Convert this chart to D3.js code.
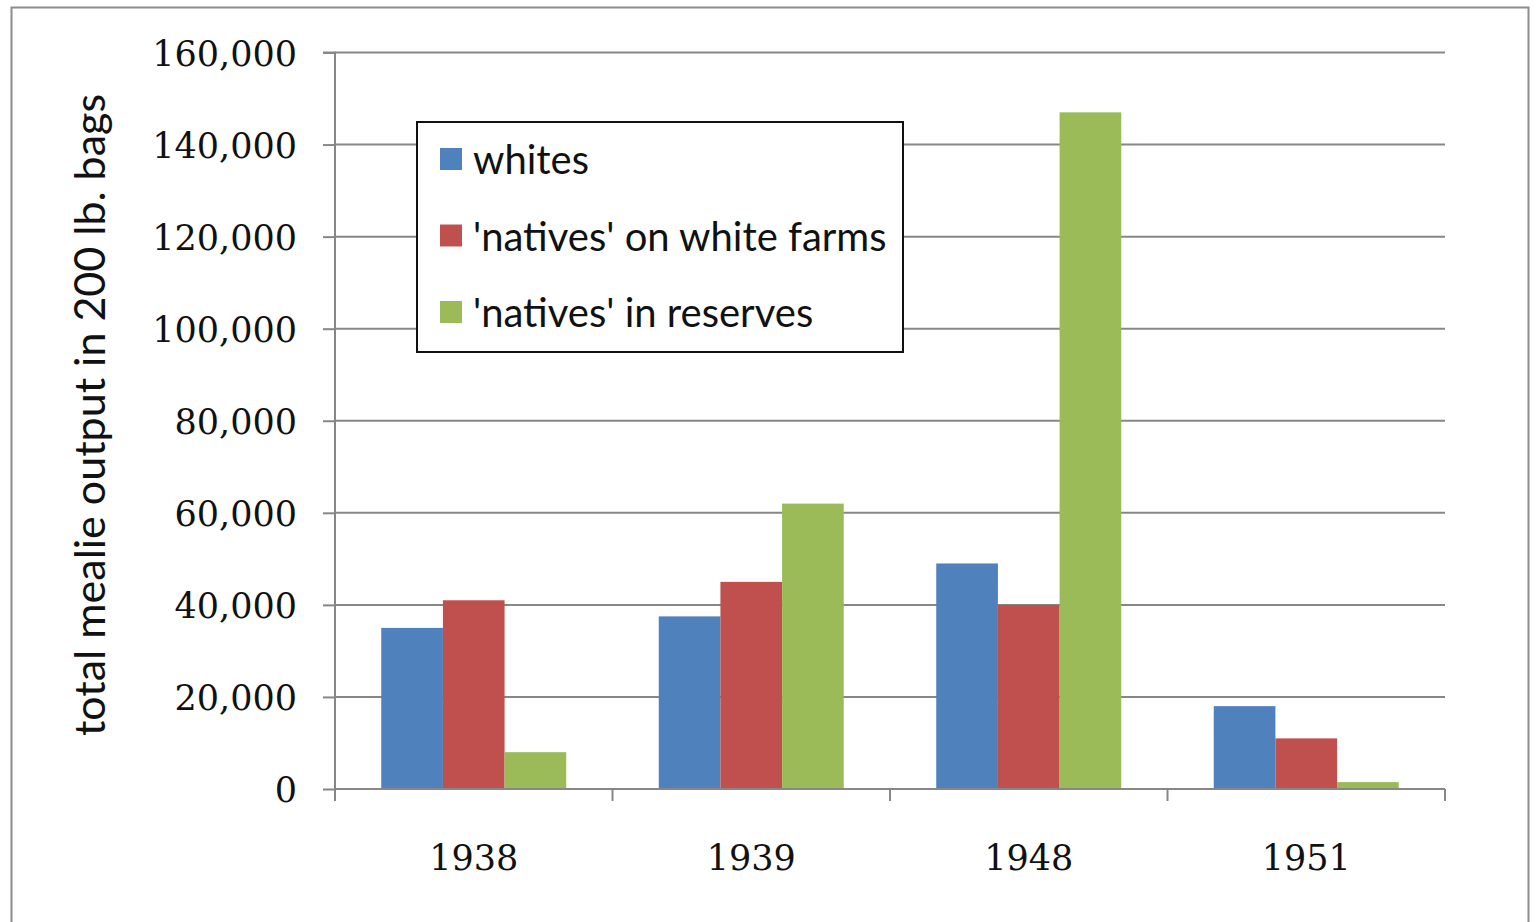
<!DOCTYPE html>
<html>
<head>
<meta charset="utf-8">
<script src="https://cdn.jsdelivr.net/npm/d3@7"></script>
<style>
  html, body { margin: 0; padding: 0; background: #fff; }
  svg { display: block; }
</style>
</head>
<body>
<svg id="chart" width="1540" height="922"></svg>
<script>
// Maize output by producer group, in 200 lb. bags
const years = ["1938", "1939", "1948", "1951"];
const seriesNames = ["whites", "'natives' on white farms", "'natives' in reserves"];
const whites = [35000, 37500, 49000, 18000];
const nativesOnWhiteFarms = [41000, 45000, 40000, 11000];
const nativesInReserves = [8000, 62000, 147000, 1500];
const yTicks = [0, 20000, 40000, 60000, 80000, 100000, 120000, 140000, 160000];
const colors = ["#4F81BD", "#C0504D", "#9BBB59"];

const seriesValues = [whites, nativesOnWhiteFarms, nativesInReserves];

const svg = d3.select("#chart");

// outer chart frame
svg.append("rect")
  .attr("x", 11.5).attr("y", 7.5)
  .attr("width", 1517).attr("height", 930)
  .attr("fill", "#fff")
  .attr("stroke", "#8c8c8c").attr("stroke-width", 2);

const plot = { left: 335, right: 1445, top: 52.5, bottom: 789 };

const x = d3.scaleBand()
  .domain(years)
  .range([plot.left, plot.right])
  .paddingInner(0).paddingOuter(0);

const inner = d3.scaleBand()
  .domain(d3.range(seriesNames.length))
  .range([0, x.bandwidth()])
  .paddingInner(0)
  .paddingOuter(0.75);

const y = d3.scaleLinear()
  .domain([0, 160000])
  .range([plot.bottom, plot.top]);

const fmt = d3.format(",");
const gridColor = "#878787";

// horizontal gridlines
svg.append("g")
  .selectAll("line")
  .data(yTicks.filter(d => d > 0))
  .join("line")
  .attr("x1", plot.left).attr("x2", plot.right)
  .attr("y1", d => y(d)).attr("y2", d => y(d))
  .attr("stroke", gridColor).attr("stroke-width", 2);

// bars
const bars = [];
seriesValues.forEach((vals, si) => {
  vals.forEach((v, ci) => bars.push({ year: years[ci], s: si, v }));
});
svg.append("g")
  .selectAll("rect")
  .data(bars)
  .join("rect")
  .attr("x", d => x(d.year) + inner(d.s))
  .attr("width", inner.bandwidth())
  .attr("y", d => y(d.v))
  .attr("height", d => y(0) - y(d.v))
  .attr("fill", d => colors[d.s]);

// y axis
const yAxis = d3.axisLeft(y)
  .tickValues(yTicks)
  .tickFormat(fmt)
  .tickSize(12)
  .tickPadding(26);
const gy = svg.append("g")
  .attr("transform", `translate(${plot.left},0)`)
  .call(yAxis);
gy.select(".domain").attr("stroke", gridColor).attr("stroke-width", 2)
  .attr("d", `M-12,${plot.top}H0V${plot.bottom + 12}`);
gy.selectAll(".tick line").attr("stroke", gridColor).attr("stroke-width", 2);
gy.selectAll(".tick text")
  .attr("font-family", "'DejaVu Serif', serif")
  .attr("font-size", 35)
  .attr("fill", "#111")
  .attr("dy", "0.36em");

// x axis
const xAxis = d3.axisBottom(x).tickSize(0).tickPadding(68);
const gx = svg.append("g")
  .attr("transform", `translate(0,${plot.bottom})`)
  .call(xAxis);
gx.select(".domain").attr("stroke", gridColor).attr("stroke-width", 2)
  .attr("d", `M${plot.left},0H${plot.right}`);
gx.selectAll(".tick text")
  .attr("font-family", "'DejaVu Serif', serif")
  .attr("font-size", 35)
  .attr("fill", "#111")
  .attr("dy", "0.36em");
// category boundary ticks
const bounds = years.map(d => x(d)).concat([plot.right]);
gx.append("g").selectAll("line")
  .data(bounds)
  .join("line")
  .attr("x1", d => d).attr("x2", d => d)
  .attr("y1", 0).attr("y2", 12)
  .attr("stroke", gridColor).attr("stroke-width", 2);

// y axis title
svg.append("text")
  .attr("transform", "translate(88,415) rotate(-90)")
  .attr("text-anchor", "middle")
  .attr("dominant-baseline", "central")
  .attr("font-family", "Lato, sans-serif")
  .attr("font-size", 43)
  .attr("fill", "#111")
  .text("total mealie output in 200 lb. bags");

// legend
const legend = svg.append("g");
legend.append("rect")
  .attr("x", 417).attr("y", 122)
  .attr("width", 486).attr("height", 230)
  .attr("fill", "#fff")
  .attr("stroke", "#111").attr("stroke-width", 2);
const items = legend.selectAll("g.item")
  .data(seriesNames)
  .join("g")
  .attr("class", "item")
  .attr("transform", (d, i) => `translate(440,${159 + i * 76.5})`);
items.append("rect")
  .attr("x", 0).attr("y", -11)
  .attr("width", 22).attr("height", 22)
  .attr("fill", (d, i) => colors[i]);
items.append("text")
  .attr("x", 33)
  .attr("dominant-baseline", "central")
  .attr("font-family", "Lato, sans-serif")
  .attr("font-size", 40)
  .attr("fill", "#111")
  .text(d => d);
</script>
</body>
</html>
